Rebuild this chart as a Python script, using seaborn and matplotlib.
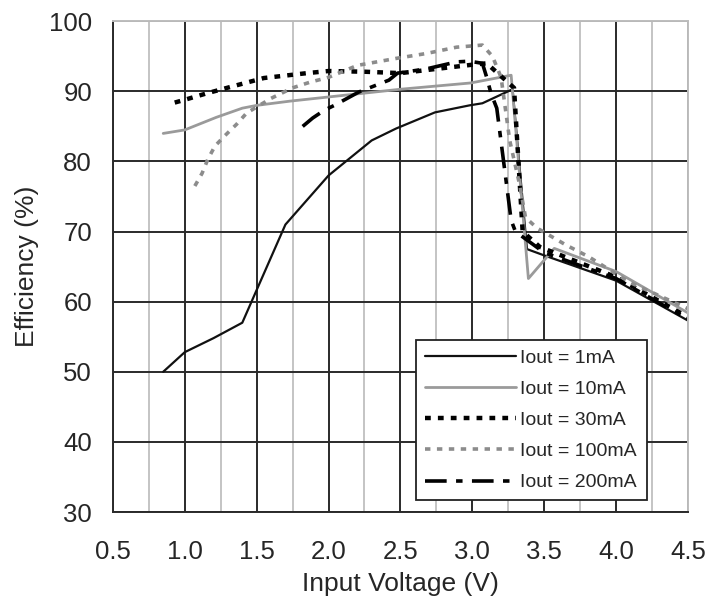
import pandas as pd
import numpy as np
import matplotlib
matplotlib.use("Agg")
import matplotlib.pyplot as plt
import matplotlib.ticker as ticker
import seaborn as sns

# values (input voltage V, efficiency %)
v_1ma = [0.85, 1.0, 1.2, 1.4, 1.7, 2.0, 2.3, 2.47, 2.74, 2.98, 3.07, 3.28, 3.38, 3.5, 4.0, 4.5]
e_1ma = [50.0, 52.8, 54.8, 57.0, 71.0, 78.0, 83.0, 84.7, 87.0, 88.0, 88.3, 90.3, 67.5, 66.6, 63.0, 57.3]

v_10ma = [0.85, 1.0, 1.22, 1.4, 1.5, 1.73, 2.0, 2.5, 2.99, 3.27, 3.39, 3.57, 4.0, 4.5]
e_10ma = [84.0, 84.5, 86.3, 87.6, 88.0, 88.6, 89.2, 90.3, 91.2, 92.3, 63.3, 67.6, 64.3, 58.4]

v_30ma = [0.93, 1.0, 1.15, 1.33, 1.55, 1.85, 2.0, 2.25, 2.5, 2.75, 3.0, 3.1, 3.29, 3.35, 3.47, 4.0, 4.5]
e_30ma = [88.4, 88.8, 89.7, 90.7, 91.9, 92.6, 92.9, 92.8, 92.6, 93.2, 93.8, 94.0, 90.5, 70.0, 67.8, 63.5, 57.8]

v_100ma = [1.07, 1.12, 1.16, 1.21, 1.28, 1.36, 1.43, 1.6, 1.75, 1.87, 2.0, 2.2, 2.47, 2.68, 2.89, 3.07,
           3.14, 3.2, 3.26, 3.33, 3.37, 3.45, 3.65, 3.81, 4.09, 4.5]
e_100ma = [76.5, 78.3, 80.3, 82.2, 83.7, 85.3, 86.9, 89.0, 90.5, 91.3, 92.0, 93.7, 94.7, 95.4, 96.3, 96.6,
           95.0, 92.0, 83.0, 76.6, 72.0, 70.5, 68.1, 66.4, 62.8, 59.0]

v_200ma = [1.82, 1.89, 1.97, 2.04, 2.21, 2.42, 2.48, 2.68, 2.89, 2.98, 3.07, 3.1, 3.13, 3.17, 3.27, 3.3, 3.38, 3.5, 4.0, 4.5]
e_200ma = [85.0, 86.2, 87.3, 88.0, 89.9, 91.6, 92.6, 93.2, 94.2, 94.3, 94.0, 92.0, 89.7, 87.6, 71.6, 70.0, 68.8, 67.0, 63.3, 57.5]

labels = ["Iout = 1mA", "Iout = 10mA", "Iout = 30mA", "Iout = 100mA", "Iout = 200mA"]
x_ticks = [0.5, 1.0, 1.5, 2.0, 2.5, 3.0, 3.5, 4.0, 4.5]
y_ticks = [30, 40, 50, 60, 70, 80, 90, 100]

sns.set_style("white")
plt.rcParams["font.family"] = ["Liberation Sans", "DejaVu Sans"]

fig = plt.figure(figsize=(7.1, 6.07), dpi=100)
ax = fig.add_axes([0.159, 0.1565, 0.810, 0.8085])

series = [
    (v_1ma, e_1ma, dict(color="#111111", lw=1.6, linestyle="-")),
    (v_10ma, e_10ma, dict(color="#9a9a9a", lw=2.0, linestyle="-")),
    (v_30ma, e_30ma, dict(color="#000000", lw=3.2, linestyle=(0, (1.3, 1.6)))),
    (v_100ma, e_100ma, dict(color="#8c8c8c", lw=2.6, linestyle=(0, (1.5, 1.8)))),
    (v_200ma, e_200ma, dict(color="#000000", lw=2.6, linestyle=(0, (6, 2.6, 1.8, 2.6)))),
]

for (xs, ys, style), lab in zip(series, labels):
    sns.lineplot(x=xs, y=ys, ax=ax, sort=False, label=lab, **style)

ax.set_xlim(0.5, 4.5)
ax.set_ylim(30, 100)
ax.set_xticks(x_ticks)
ax.set_xticklabels([f"{t:.1f}" for t in x_ticks])
ax.set_yticks(y_ticks)
ax.xaxis.set_minor_locator(ticker.MultipleLocator(0.25))

ax.grid(which="major", axis="both", color="#2a2a2a", lw=1.4)
ax.grid(which="minor", axis="x", color="#c4c4c4", lw=1.4)
ax.set_axisbelow(True)
ax.tick_params(which="both", length=0, labelsize=18.5, colors="#262626")
ax.tick_params(axis="x", pad=20)
ax.tick_params(axis="y", pad=15)

for side in ["left", "bottom"]:
    ax.spines[side].set_color("#2a2a2a")
    ax.spines[side].set_linewidth(1.4)
for side in ["top", "right"]:
    ax.spines[side].set_color("#bdbdbd")
    ax.spines[side].set_linewidth(1.4)

ax.set_xlabel("Input Voltage (V)", fontsize=19, color="#262626", labelpad=6)
ax.set_ylabel("Efficiency (%)", fontsize=19, color="#262626", labelpad=7)

leg = ax.legend(loc="lower left", bbox_to_anchor=(0.527, 0.024, 0.402, 0.326), mode="expand",
                borderaxespad=0, fontsize=14, handlelength=4.7, handletextpad=0.2,
                labelspacing=0.7, fancybox=False, framealpha=1, borderpad=0.45)
leg.get_frame().set_edgecolor("#222222")
leg.get_frame().set_linewidth(1.3)
for t in leg.get_texts():
    t.set_color("#262626")

fig.savefig("out.png", dpi=100)
